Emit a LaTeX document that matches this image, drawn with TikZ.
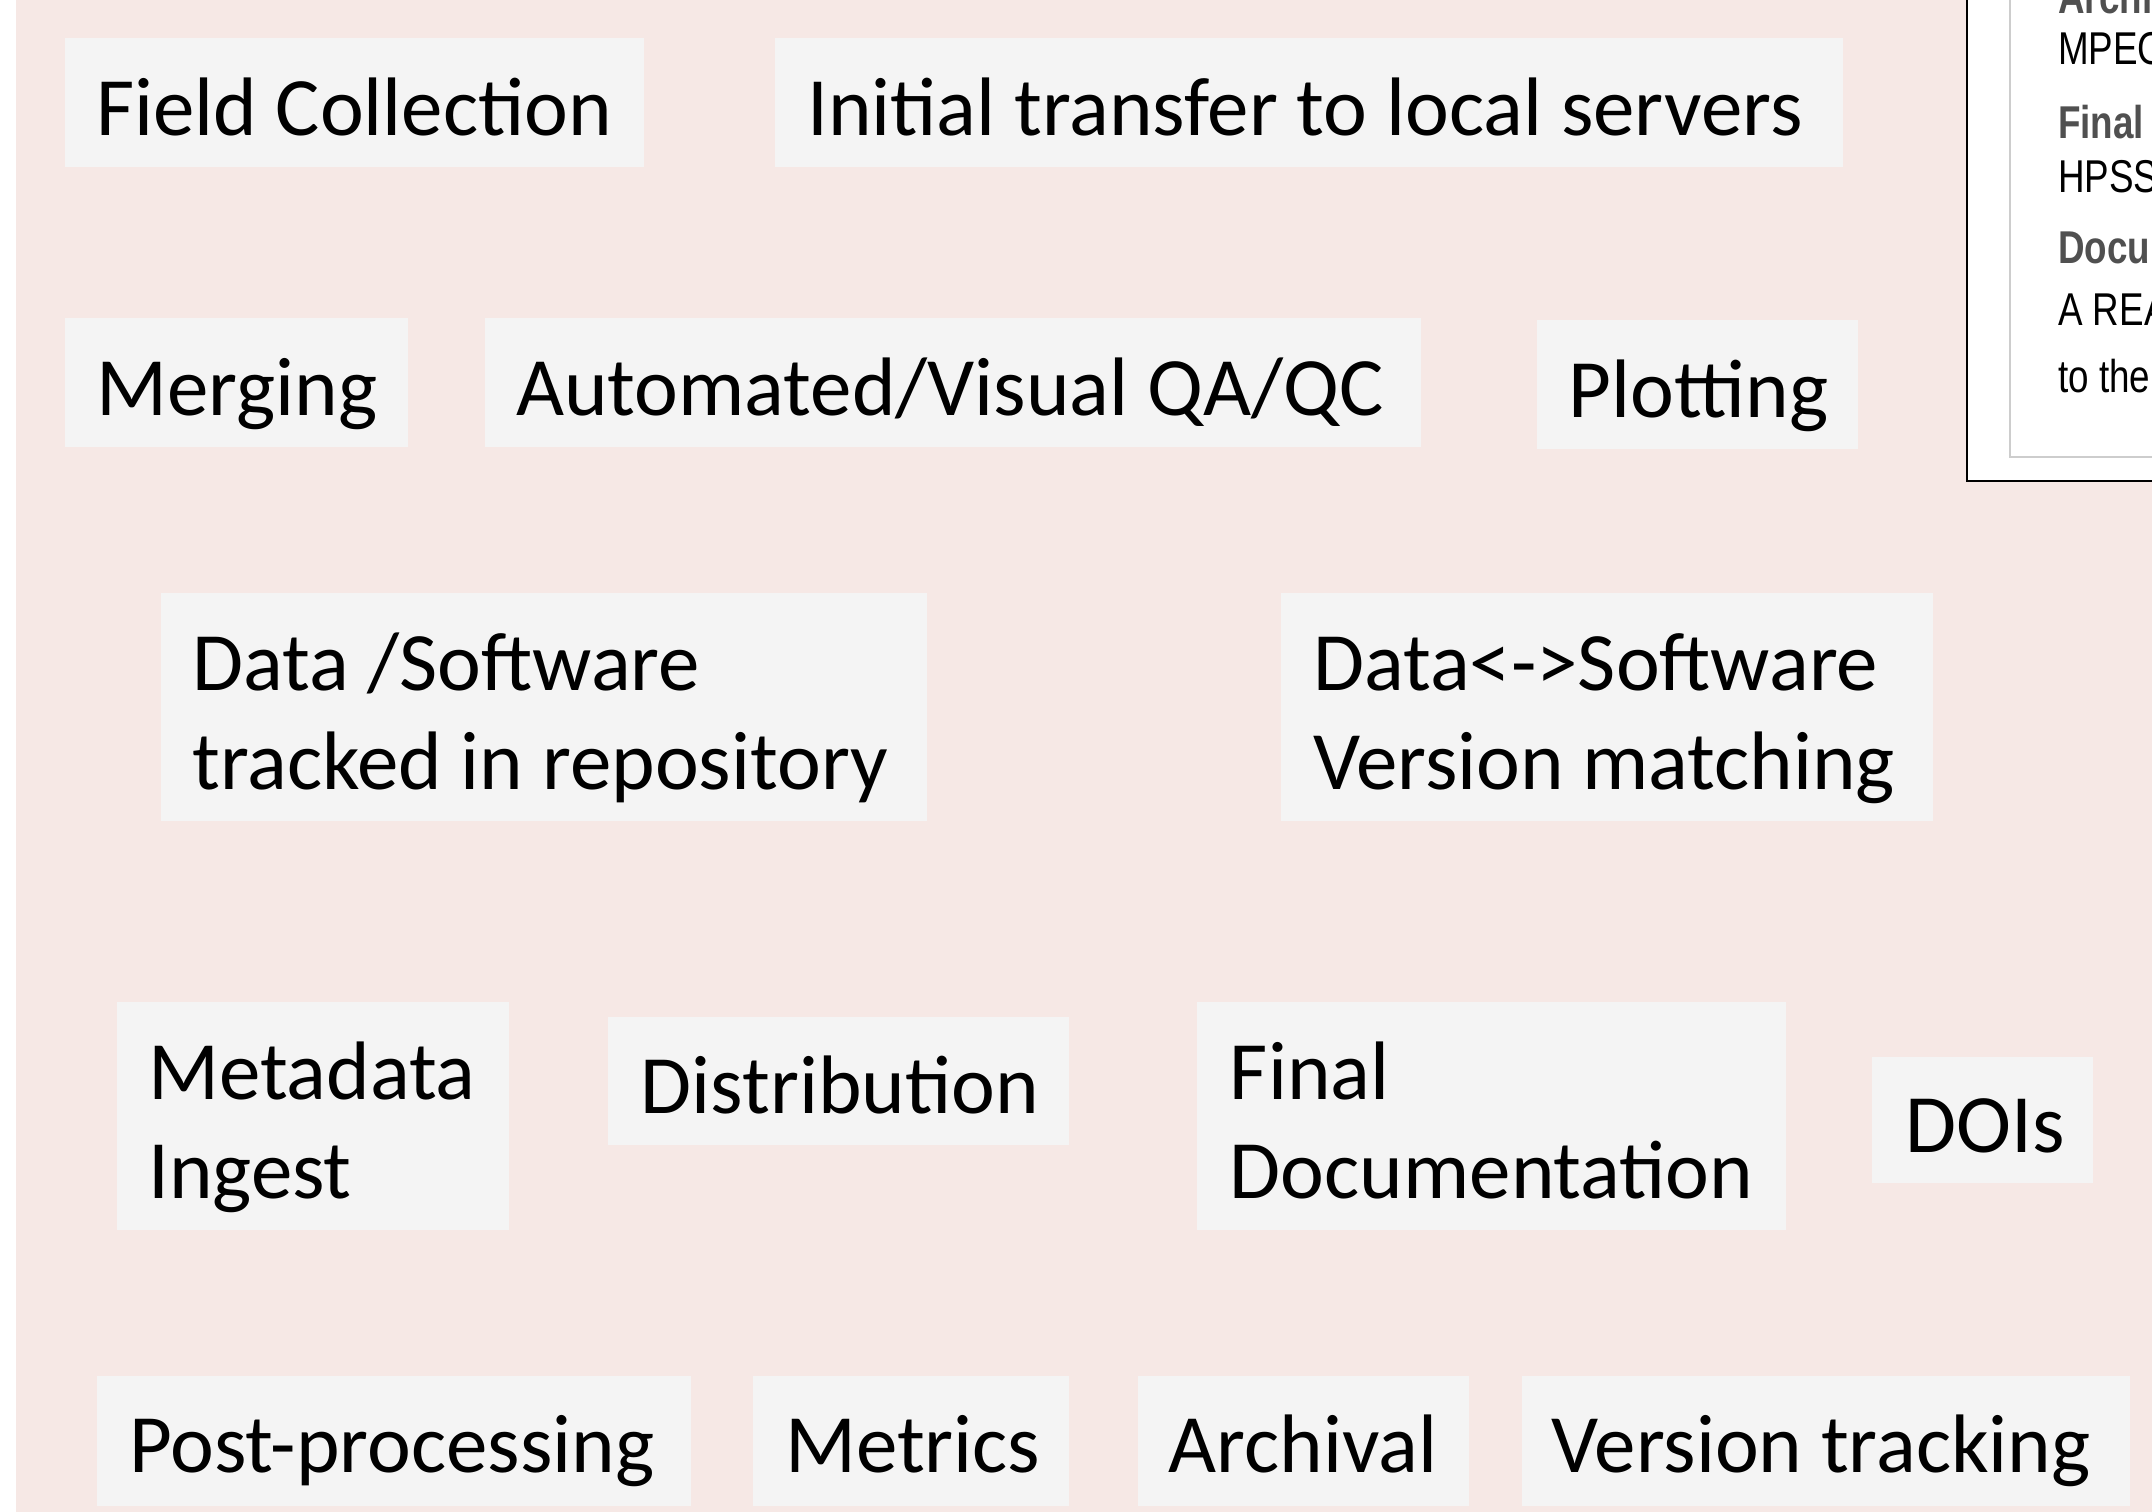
\documentclass[tikz,border=0pt]{standalone}
\usepackage{fontspec}
\setmainfont{Carlito}
\newfontfamily\panelfont{Liberation Sans}
\definecolor{bgpink}{RGB}{246,232,229}
\definecolor{boxgray}{RGB}{244,244,244}
\definecolor{labgray}{RGB}{80,80,80}
\definecolor{innergray}{RGB}{205,205,205}
\newcommand\narrowtxt[1]{\scalebox{0.8}[1]{#1}}
\begin{document}
\begin{tikzpicture}[x=1pt,y=-1pt,
  boxbg/.style={fill=boxgray, draw=none, anchor=north west, inner sep=0pt, outer sep=0pt},
  lbl/.style={anchor=base west, inner sep=0pt, font=\fontsize{83}{99}\selectfont},
  ptxt/.style={anchor=base west, inner sep=0pt, font=\panelfont\fontsize{46}{52}\selectfont},
  ptitle/.style={ptxt, font=\panelfont\bfseries\fontsize{46}{52}\selectfont, text=labgray}]
\useasboundingbox (0,0) rectangle (2152,1512);
\begin{scope}
\clip (0,0) rectangle (2152,1512);
\fill[white] (0,0) rectangle (2152,1512);
\fill[bgpink] (16,-5) rectangle (2160,1520);
% right panel
\draw[fill=white, line width=2pt] (1967,-20) rectangle (2200,481);
\draw[innergray, line width=1.5pt] (2010,-20) rectangle (2200,457);
\node[ptitle] (p1) at (2058,14) {\narrowtxt{Archi}};
\node[ptxt] (p2) at (2058,65) {\narrowtxt{MPEG}};
\node[ptitle] (p3) at (2058,138) {\narrowtxt{Final}};
\node[ptxt] (p4) at (2058,192) {\narrowtxt{HPSS}};
\node[ptitle] (p5) at (2058,263) {\narrowtxt{Docu}};
\node[ptxt] (p6) at (2058,325) {\narrowtxt{A REA}};
\node[ptxt] (p7) at (2058,392) {\narrowtxt{to the}};
% boxes
\node[boxbg, minimum width=579pt, minimum height=129pt] (fc) at (64.5,38.4) {};
\node[lbl] (fct) at (96,135.5) {Field Collection};
\node[boxbg, minimum width=1068pt, minimum height=129pt] (itr) at (775.4,38.4) {};
\node[lbl] (itrt) at (807,135.5) {Initial transfer to local servers};
\node[boxbg, minimum width=343pt, minimum height=129pt] (mrg) at (64.5,318.4) {};
\node[lbl] (mrgt) at (96,415.5) {Merging};
\node[boxbg, minimum width=936pt, minimum height=129pt] (qa) at (484.5,318.4) {};
\node[lbl] (qat) at (516,415.5) {Automated/Visual QA/QC};
\node[boxbg, minimum width=321pt, minimum height=129pt] (plt) at (1537,320) {};
\node[lbl] (pltt) at (1568.6,417) {Plotting};
\node[boxbg, minimum width=766pt, minimum height=228pt] (dst) at (160.6,593) {};
\node[lbl] (dstt) at (192,690) {\begin{tabular}[t]{@{}l@{}}Data /Software\\tracked in repository\end{tabular}};
\node[boxbg, minimum width=652pt, minimum height=228pt] (dvm) at (1280.5,593) {};
\node[lbl] (dvmt) at (1313,690) {\begin{tabular}[t]{@{}l@{}}Data<->Software\\Version matching\end{tabular}};
\node[boxbg, minimum width=392.5pt, minimum height=228pt] (mdi) at (116.7,1002) {};
\node[lbl] (mdit) at (148,1099) {\begin{tabular}[t]{@{}l@{}}Metadata\\Ingest\end{tabular}};
\node[boxbg, minimum width=461pt, minimum height=128pt] (dis) at (608,1017) {};
\node[lbl] (dist) at (640.5,1113) {Distribution};
\node[boxbg, minimum width=589pt, minimum height=228pt] (fdoc) at (1196.7,1002) {};
\node[lbl] (fdoct) at (1229.7,1099) {\begin{tabular}[t]{@{}l@{}}Final\\Documentation\end{tabular}};
\node[boxbg, minimum width=221pt, minimum height=126pt] (doi) at (1872,1057) {};
\node[lbl] (doit) at (1905,1152) {DOIs};
\node[boxbg, minimum width=594pt, minimum height=130pt] (pp) at (97.4,1376) {};
\node[lbl] (ppt) at (129,1472.5) {Post-processing};
\node[boxbg, minimum width=315.6pt, minimum height=130pt] (met) at (753.4,1376) {};
\node[lbl] (mett) at (785,1472.5) {Metrics};
\node[boxbg, minimum width=331pt, minimum height=130pt] (arc) at (1137.7,1376) {};
\node[lbl] (arct) at (1168.6,1472.5) {Archival};
\node[boxbg, minimum width=608pt, minimum height=130pt] (vt) at (1522,1376) {};
\node[lbl] (vtt) at (1551.6,1472.5) {Version tracking};
\end{scope}
\end{tikzpicture}
\end{document}
